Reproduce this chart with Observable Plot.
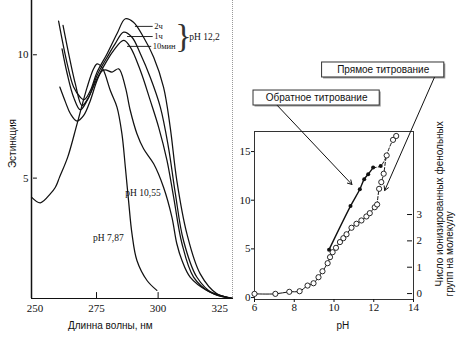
<!DOCTYPE html>
<html><head><meta charset="utf-8">
<script src="https://cdn.jsdelivr.net/npm/d3@7"></script>
<script src="https://cdn.jsdelivr.net/npm/@observablehq/plot@0.6"></script>
<style>
body{margin:0;background:#fff;}
#wrap{position:relative;width:457px;height:343px;overflow:hidden;background:#fff;}
#wrap svg{position:absolute;left:0;top:0;}
</style></head><body><div id="wrap"></div>
<script>
// ---------- Left panel: absorption spectra ----------
const nm787  = [248.6, 252.2, 256.3, 258.3, 260.0, 263.3, 267.1, 271.2, 273.8, 275.2, 276.5, 277.9, 280.6, 283.3, 285.3, 286.7, 288.0, 289.4, 291.4, 295.5, 299.5];
const ext787 = [4.23, 4.00, 4.37, 4.63, 5.04, 5.85, 7.20, 8.69, 9.43, 9.63, 9.57, 9.36, 8.55, 7.88, 6.80, 5.44, 4.09, 2.74, 1.66, 0.85, 0.45];

const nm1055  = [260.1, 262.4, 264.4, 267.1, 269.8, 272.5, 275.2, 277.2, 278.6, 281.3, 284.0, 286.7, 288.7, 291.4, 294.1, 298.2, 302.2, 305.6, 307.6, 309.7, 313.0, 319.8, 327.9];
const ext1055 = [8.69, 8.08, 7.61, 7.31, 7.54, 8.15, 8.96, 9.34, 9.39, 9.30, 9.43, 8.69, 7.74, 6.80, 6.19, 5.58, 4.63, 3.42, 2.34, 1.66, 0.99, 0.45, 0.17];

const nm2h  = [259.6, 263.1, 265.7, 268.4, 270.0, 272.5, 275.2, 279.3, 283.3, 286.7, 290.0, 294.1, 298.2, 302.2, 304.9, 307.6, 311.7, 317.1, 323.9, 330.2];
const ext2h = [11.36, 9.63, 8.69, 8.28, 8.18, 8.55, 9.29, 10.04, 10.85, 11.46, 11.32, 10.71, 9.90, 8.69, 7.07, 4.90, 2.74, 1.12, 0.31, 0.13];

const nm1h  = [261.4, 263.7, 266.4, 269.1, 271.8, 275.2, 279.3, 282.6, 286.0, 289.4, 292.8, 296.8, 300.9, 304.2, 307.0, 310.3, 315.7, 322.5, 330.2];
const ext1h = [11.19, 10.04, 8.82, 7.94, 8.28, 9.16, 9.90, 10.45, 10.92, 10.71, 10.04, 9.09, 7.88, 6.25, 4.37, 2.47, 0.99, 0.31, 0.13];

const nm10m  = [261.0, 263.1, 265.7, 268.4, 271.2, 275.2, 279.3, 281.9, 286.0, 288.7, 292.8, 296.8, 300.2, 303.6, 306.3, 309.7, 314.4, 321.1, 330.2];
const ext10m = [10.24, 9.23, 8.28, 7.77, 8.15, 9.03, 9.77, 10.17, 10.58, 10.31, 9.36, 8.15, 7.07, 5.72, 4.23, 2.34, 0.99, 0.38, 0.13];

const xTicksL = [250, 275, 300, 325];
const xInnerL = [275, 300];
const yTicksL = [5, 10];

// curve labels (wavelength, extinction)
const curveLabels = ["2ч", "1ч", "10мин"];
const labelNm   = [298.4, 298.4, 297.8];
const labelExt  = [11.15, 10.74, 10.34];
const leaderFrom = [290.8, 287.6, 287.6];
const leaderTo   = [298.0, 298.0, 297.4];
const groupLabel = "pH 12,2";
const phLabels = ["pH 10,55", "pH 7,87"];
const phLabelNm = [286.7, 273.6];
const phLabelExt = [4.38, 2.59];

// ---------- Right panel: titration ----------
const phFwd = [6.0, 7.05, 7.75, 8.27, 8.67, 8.97, 9.22, 9.42, 9.68, 9.8, 9.93, 10.1, 10.3, 10.47, 10.63, 10.88, 11.13, 11.38, 11.63, 11.8, 12.05, 12.17];
const vFwd  = [0.38, 0.38, 0.59, 0.65, 1.23, 1.47, 2.09, 2.7, 3.53, 4.15, 4.66, 5.11, 5.7, 6.1, 6.5, 7.17, 7.58, 7.92, 8.33, 8.67, 9.28, 9.56];
const phFwdHigh = [12.17, 12.27, 12.38, 12.5, 12.65, 12.97, 13.13];
const vFwdHigh  = [9.56, 11.17, 11.86, 12.72, 14.6, 16.2, 16.6];
const phRev = [9.75, 10.83, 11.3, 11.52, 11.72, 11.97];
const vRev  = [4.92, 9.4, 11.13, 12.16, 12.67, 13.35];
const phRevHigh = [11.97, 12.35, 12.65];
const vRevHigh  = [13.35, 13.52, 14.6];

const xTicksR = [6, 8, 10, 12, 14];
const yTicksR = [0, 5, 10, 15];
const rightTicks = [0, 1, 2, 3];      // ionized phenolic groups per molecule
const groupsScale = 2.707, groupsOffset = 0.41; // right axis -> left axis units

// annotations (pH, left-axis units)
const boxTexts = ["Прямое титрование", "Обратное титрование"];
const boxX1 = [9.4, 5.95], boxX2 = [15.55, 12.3];
const boxY1 = [22.61, 19.73], boxY2 = [24.15, 21.27];
const arrowX1 = [15.05, 7.15], arrowY1 = [22.61, 19.73];
const arrowX2 = [12.55, 10.9], arrowY2 = [11.0, 11.62];

const serif = "'Liberation Serif','Times New Roman',serif";
const sans = "'Liberation Sans',Arial,sans-serif";

const toRows = (xs, ys, s) => xs.map((x, i) => ({x, y: ys[i], s}));
const spectra = [
  ...toRows(nm787, ext787, "7.87"),
  ...toRows(nm1055, ext1055, "10.55"),
  ...toRows(nm2h, ext2h, "2h"),
  ...toRows(nm1h, ext1h, "1h"),
  ...toRows(nm10m, ext10m, "10m")
];
const labelRows = curveLabels.map((t, i) => ({t, x: labelNm[i], y: labelExt[i], x1: leaderFrom[i], x2: leaderTo[i]}));
const phRows = phLabels.map((t, i) => ({t, x: phLabelNm[i], y: phLabelExt[i]}));

const xDomL = [248.6, 330.2], yDomL = [0.12, 12.2];

const left = Plot.plot({
  width: 457, height: 343,
  marginLeft: 31, marginRight: 225, marginTop: 0, marginBottom: 45,
  x: {domain: xDomL}, y: {domain: yDomL},
  style: {background: "transparent", fontFamily: serif, fontSize: "11px", color: "#111"},
  marks: [
    Plot.axisX(xTicksL, {tickSize: 0, tickPadding: 6, label: null, fontSize: 11}),
    Plot.axisY(yTicksL, {tickSize: 0, tickPadding: 3, label: null, fontSize: 11}),
    Plot.ruleX(xInnerL, {y1: yDomL[0], y2: 0.36, stroke: "#111"}),
    Plot.ruleY(yTicksL, {x1: 249.4, x2: 251.0, stroke: "#111"}),
    Plot.ruleX([xDomL[0]], {stroke: "#111", strokeWidth: 1.5}),
    Plot.ruleY([yDomL[0]], {stroke: "#111", strokeWidth: 1.2}),
    Plot.ruleX([xDomL[1]], {stroke: "#999", strokeDasharray: "1,1"}),
    Plot.line(spectra, {x: "x", y: "y", z: "s", curve: "catmull-rom", stroke: "#111", strokeWidth: 1.25}),
    Plot.ruleY(labelRows, {y: "y", x1: "x1", x2: "x2", stroke: "#111", strokeWidth: 0.9}),
    Plot.text(labelRows, {x: "x", y: "y", text: "t", textAnchor: "start", fontSize: 8.5, fontFamily: serif, fill: "#111"}),
    Plot.text(["}"], {x: 310.3, y: 10.75, text: d => d, fontSize: 34, fontFamily: serif, fill: "#333"}),
    Plot.text([groupLabel], {x: 312.6, y: 10.74, text: d => d, textAnchor: "start", fontSize: 9.5, fontFamily: serif, fill: "#111"}),
    Plot.text(phRows, {x: "x", y: "y", text: "t", textAnchor: "start", fontSize: 9.5, fontFamily: serif, fill: "#111"}),
    Plot.text(["Эстинкция"], {x: 240.9, y: 6.4, text: d => d, rotate: -90, fontSize: 10, fontFamily: sans, fill: "#111"}),
    Plot.text(["Длинна волны, нм"], {x: 280.6, y: -0.97, text: d => d, fontSize: 10, fontFamily: sans, fill: "#111"})
  ]
});

const toLeft = r => r * groupsScale + groupsOffset;
const rightPos = rightTicks.map(toLeft);
const fwd = toRows(phFwd, vFwd, "f");
const fwdHigh = toRows(phFwdHigh, vFwdHigh, "fh");
const rev = toRows(phRev, vRev, "r");
const revHigh = toRows(phRevHigh, vRevHigh, "rh");
const boxes = boxTexts.map((t, i) => ({t, x1: boxX1[i], x2: boxX2[i], y1: boxY1[i], y2: boxY2[i]}));
const arrows = arrowX1.map((x1, i) => ({x1, y1: arrowY1[i], x2: arrowX2[i], y2: arrowY2[i]}));

const right = Plot.plot({
  width: 457, height: 343,
  marginLeft: 254, marginRight: 44, marginTop: 131, marginBottom: 44,
  x: {domain: [6, 14]}, y: {domain: [-0.2, 17.06]},
  style: {background: "transparent", fontFamily: serif, fontSize: "11px", color: "#111"},
  marks: [
    Plot.frame({stroke: "#333"}),
    Plot.axisX(xTicksR, {tickSize: 3, tickPadding: 1, label: null, fontSize: 11}),
    Plot.axisY(yTicksR, {tickSize: 3, tickPadding: 1, label: null, fontSize: 11}),
    Plot.axisY(rightPos, {anchor: "right", tickSize: 0, tickPadding: 3, label: null, fontSize: 11,
      tickFormat: d => rightTicks[rightPos.indexOf(d)]}),
    Plot.ruleY(rightPos, {x1: 13.7, x2: 13.95, stroke: "#111"}),
    Plot.line(fwd, {x: "x", y: "y", curve: "catmull-rom", stroke: "#111", strokeWidth: 1}),
    Plot.line(fwdHigh, {x: "x", y: "y", curve: "catmull-rom", stroke: "#111", strokeWidth: 1, strokeDasharray: "3,2"}),
    Plot.line(rev, {x: "x", y: "y", curve: "catmull-rom", stroke: "#111", strokeWidth: 1.4}),
    Plot.line(revHigh, {x: "x", y: "y", curve: "catmull-rom", stroke: "#111", strokeWidth: 1, strokeDasharray: "3,2"}),
    Plot.dot([...fwd, ...fwdHigh.slice(1)], {x: "x", y: "y", r: 2.6, fill: "white", stroke: "#111", strokeWidth: 0.9}),
    Plot.dot([...rev, ...revHigh.slice(1, 2)], {x: "x", y: "y", r: 2, fill: "#111"}),
    Plot.rect(boxes, {x1: "x1", x2: "x2", y1: "y1", y2: "y2", fill: "#999", dx: 1.5, dy: 1.5}),
    Plot.rect(boxes, {x1: "x1", x2: "x2", y1: "y1", y2: "y2", fill: "white", stroke: "#333", strokeWidth: 1}),
    Plot.text(boxes, {x: d => (d.x1 + d.x2) / 2, y: d => (d.y1 + d.y2) / 2, text: "t", fontSize: 10, fontFamily: sans, fill: "#111"}),
    Plot.arrow(arrows, {x1: "x1", y1: "y1", x2: "x2", y2: "y2", stroke: "#111", strokeWidth: 1, headLength: 7}),
    Plot.text(["Число ионизированных фенольных"], {x: 15.3, y: 1.14, text: d => d, rotate: -90, textAnchor: "start", fontSize: 10, fontFamily: sans, fill: "#111"}),
    Plot.text(["групп на молекулу"], {x: 15.85, y: 0.11, text: d => d, rotate: -90, textAnchor: "start", fontSize: 10, fontFamily: sans, fill: "#111"}),
    Plot.text(["pH"], {x: 10.45, y: -2.87, text: d => d, fontSize: 10, fontFamily: sans, fill: "#111"})
  ]
});

const wrap = document.getElementById("wrap");
wrap.appendChild(left);
wrap.appendChild(right);
</script>
</body></html>
